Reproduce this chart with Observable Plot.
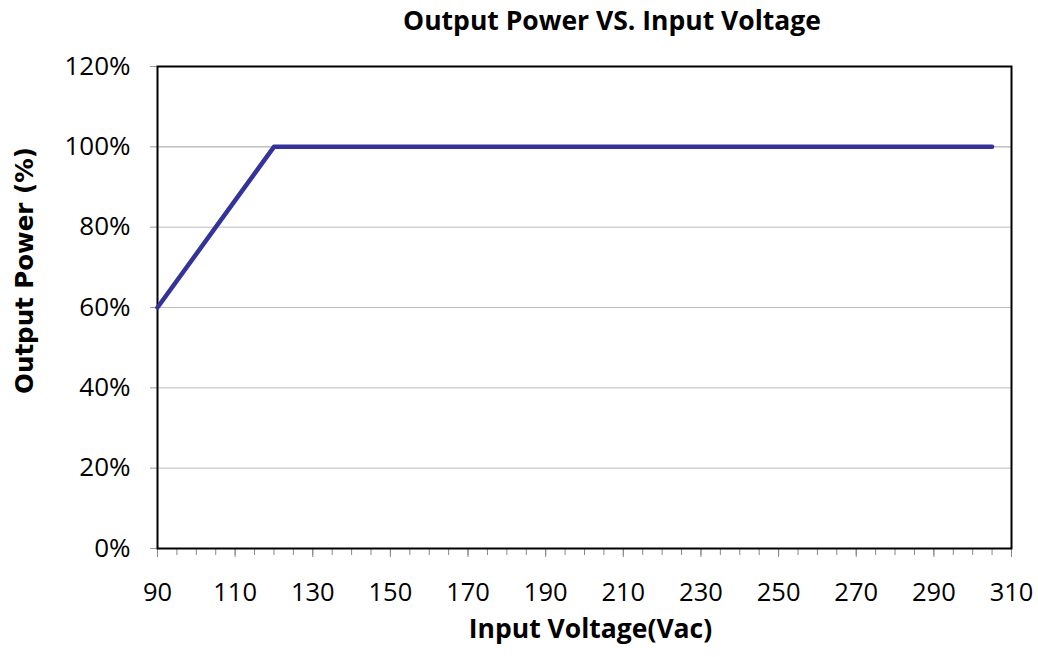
<!DOCTYPE html>
<html>
<head>
<meta charset="utf-8">
<script src="https://cdn.jsdelivr.net/npm/d3@7"></script>
<script src="https://cdn.jsdelivr.net/npm/@observablehq/plot@0.6"></script>
<style>
  html, body { margin: 0; padding: 0; background: #fff; }
  #wrap { width: 1038px; height: 657px; position: relative; overflow: hidden; }
  #title { height: 42px; line-height: 40px; font-family: "Open Sans", sans-serif; font-weight: bold; font-size: 26.5px; color: #000; text-align: center; padding-left: 186px; box-sizing: border-box; width: 1038px; }
  svg { display: block; }
</style>
</head>
<body>
<div id="wrap">
  <div id="title">Output Power VS. Input Voltage</div>
  <div id="chart"></div>
</div>
<script>
const titleText = "Output Power VS. Input Voltage";
const xLabel = "Input Voltage(Vac)";
const yLabel = "Output Power (%)";
const voltage = [90, 120, 130, 140, 150, 160, 170, 180, 190, 200, 210, 220, 230, 240, 250, 260, 270, 280, 290, 300, 305];
const power   = [60, 100, 100, 100, 100, 100, 100, 100, 100, 100, 100, 100, 100, 100, 100, 100, 100, 100, 100, 100, 100];
const xMajorTicks = [90, 110, 130, 150, 170, 190, 210, 230, 250, 270, 290, 310];
const xMinorTicks = d3.range(90, 311, 5);
const yTicks = [0, 20, 40, 60, 80, 100, 120];
const yGrid = [20, 40, 60, 80, 100];

const data = voltage.map((v, i) => ({v, p: power[i]}));
const font = "'Open Sans', sans-serif";

const chart = Plot.plot({
  width: 1038,
  height: 615,
  marginLeft: 157,
  marginRight: 27,
  marginTop: 24,
  marginBottom: 109,
  style: {fontFamily: font, fontSize: "25px", color: "#000", background: "transparent"},
  x: {domain: [90, 310]},
  y: {domain: [0, 120]},
  marks: [
    Plot.gridY(yGrid, {stroke: "#bdbdbd", strokeOpacity: 1, strokeWidth: 1}),
    Plot.tickY([100], {stroke: "#bdbdbd", strokeWidth: 1, x1: 88, x2: 90, clip: false}),
    Plot.axisY(yTicks, {
      tickSize: 7, tickPadding: 20, stroke: "#9a9a9a",
      tickFormat: d => d + "%", fontSize: 26, fill: "#000",
      label: null
    }),
    Plot.axisX(xMinorTicks, {tickSize: 7, stroke: "#888", tickFormat: () => "", label: null}),
    Plot.axisX(xMajorTicks, {
      tickSize: 9, tickPadding: 25, stroke: "#888", fontSize: 25.5, fill: "#000",
      label: null
    }),
    Plot.text([xLabel], {frameAnchor: "bottom", dx: 6, dy: 89, fontSize: 26.5, fontWeight: "bold", fill: "#000", textAnchor: "middle"}),
    Plot.text([yLabel], {frameAnchor: "left", dx: -132, dy: -37, rotate: -90, textAnchor: "middle", fontFamily: "'DejaVu Sans', sans-serif", fontSize: 24.5, fontWeight: "bold", fill: "#000"}),
    Plot.frame({stroke: "#000", strokeWidth: 2}),
    Plot.line(data, {x: "v", y: "p", stroke: "#333399", strokeWidth: 4.5, strokeLinejoin: "round", strokeLinecap: "round"})
  ]
});
document.getElementById("chart").appendChild(chart);
</script>
</body>
</html>
